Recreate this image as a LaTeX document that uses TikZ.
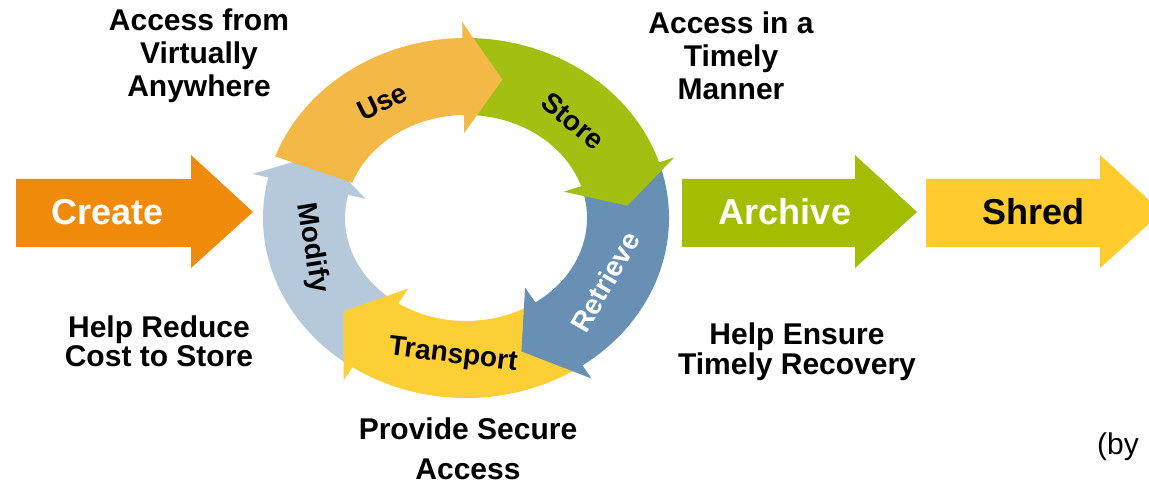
\documentclass[tikz,border=0pt]{standalone}
\usepackage{fontspec}
\setmainfont{Liberation Sans}
\usetikzlibrary{positioning}
\definecolor{createC}{HTML}{EF8A0B}
\definecolor{archiveC}{HTML}{A5BD00}
\definecolor{shredC}{HTML}{FFCB2F}
\definecolor{useC}{HTML}{F4B846}
\definecolor{storeC}{HTML}{A2BF12}
\definecolor{retrieveC}{HTML}{6890B5}
\definecolor{transportC}{HTML}{FCCF36}
\definecolor{modifyC}{HTML}{B5C9DA}
\tikzset{
  bigarrow/.style = {font=\fontsize{18pt}{20pt}\selectfont\bfseries, inner sep=0pt},
  ringlbl/.style  = {font=\fontsize{14pt}{16pt}\selectfont\bfseries, inner sep=0pt},
  note/.style     = {font=\fontsize{15pt}{13.5pt}\selectfont\bfseries, align=center,
                     inner sep=0pt},
}
% ring geometry (centre, outer/inner/middle radii, head overhang)
\def\cx{466}\def\cy{267}
\def\rox{203}\def\roy{180}
\def\rix{121}\def\riy{103}
\def\rmx{162}\def\rmy{142}
\def\wo{16}\def\wi{18}
% #1 colour, #2 tail angle, #3 head base angle, #4 tip angle
\newcommand\ringarrow[4]{%
  \fill[#1] ({\cx+\rox*cos(#2)},{\cy+\roy*sin(#2)})
    arc[start angle=#2, end angle=#3, x radius=\rox, y radius=\roy]
    -- ({\cx+(\rox+\wo)*cos(#3)},{\cy+(\roy+\wo)*sin(#3)})
    -- ({\cx+\rmx*cos(#4)},{\cy+\rmy*sin(#4)})
    -- ({\cx+(\rix-\wi)*cos(#3)},{\cy+(\riy-\wi)*sin(#3)})
    -- ({\cx+\rix*cos(#3)},{\cy+\riy*sin(#3)})
    arc[start angle=#3, end angle=#2, x radius=\rix, y radius=\riy]
    -- cycle;}
% #1 colour, #2 left end, #3 head base
\newcommand\flatarrow[3]{%
  \fill[#1] (#2,238) -- (#3,238) -- (#3,217) -- ({#3+62},273)
    -- (#3,330) -- (#3,306) -- (#2,306) -- cycle;}

\begin{document}
\begin{tikzpicture}[x=0.5pt, y=0.5pt]
  \useasboundingbox (0,0) rectangle (1149,485);
  \clip (0,0) rectangle (1149,485);
  % straight stages
  \flatarrow{createC}{16}{191}
  \flatarrow{archiveC}{682}{855}
  \flatarrow{shredC}{926}{1100}
  \node[bigarrow, text=white] (create)  at (108,273) {Create};
  \node[bigarrow, text=white] (archive) at (785,273) {Archive};
  \node[bigarrow]             (shred)   at (1033,273) {Shred};
  % the cycle, drawn so each head lies over the next tail
  \ringarrow{modifyC}{236}{167}{153}
  \ringarrow{transportC}{-55}{-124}{-139}
  \ringarrow{retrieveC}{18}{-55}{-70}
  \ringarrow{storeC}{91}{18}{5}
  \ringarrow{useC}{160}{91}{77}
  \node[ringlbl, rotate=26]               (use)       at (382,383) {Use};
  \node[ringlbl, rotate=-39]              (store)     at (573,364) {Store};
  \node[ringlbl, rotate=60, text=white]   (retrieve)  at (605,203) {Retrieve};
  \node[ringlbl, rotate=-7]               (transport) at (453,129) {Transport};
  \node[ringlbl, rotate=-81]              (modify)    at (312,237) {Modify};
  % notes
  \node[note, font=\fontsize{15pt}{16.5pt}\selectfont\bfseries] (anywhere) at (199,429)
    {Access from\\Virtually\\Anywhere};
  \node[note, font=\fontsize{15pt}{16.5pt}\selectfont\bfseries] (timely) at (731,429)
    {Access in a\\Timely\\Manner};
  \node[note] (cost)     at (159,144) {Help Reduce\\Cost to Store};
  \node[note] (recovery) at (797,133) {Help Ensure\\Timely Recovery};
  \node[note, font=\fontsize{15pt}{20pt}\selectfont\bfseries] (secure) at (468,36)
    {Provide Secure\\Access};
  \node[font=\fontsize{15pt}{17pt}\selectfont, inner sep=0pt] (by) at (1118,38) {(by};
\end{tikzpicture}
\end{document}
